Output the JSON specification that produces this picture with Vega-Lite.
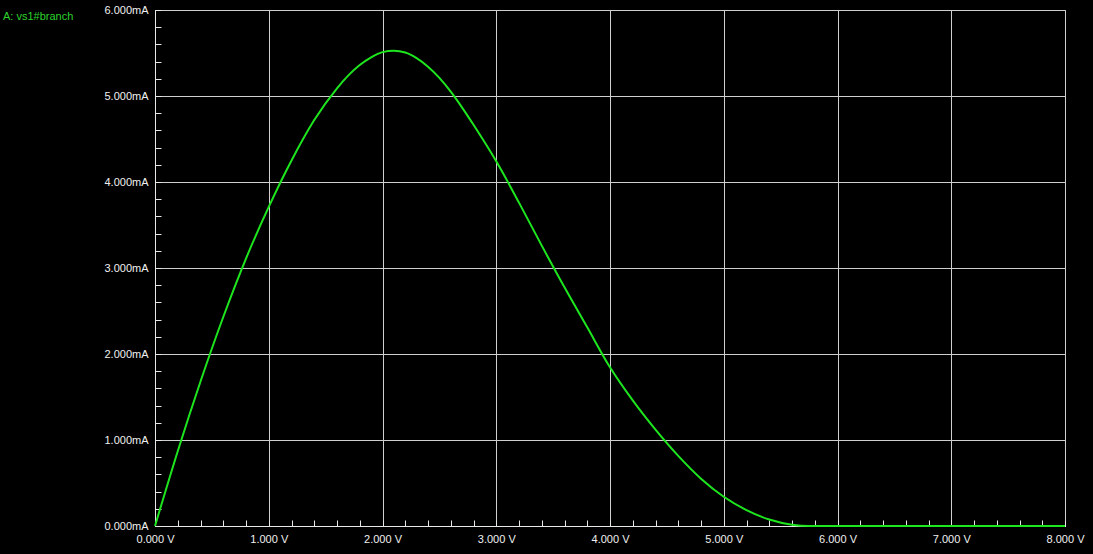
{
  "$schema": "https://vega.github.io/schema/vega-lite/v6.json",
  "width": 910,
  "height": 516,
  "autosize": {"type": "none"},
  "padding": {"left": 155, "top": 10, "right": 28, "bottom": 28},
  "background": "#000000",
  "title": {
    "text": "A: vs1#branch",
    "anchor": "start",
    "frame": "group",
    "orient": "top",
    "offset": 0,
    "dx": -152,
    "dy": 24,
    "baseline": "middle",
    "font": "Liberation Sans",
    "fontSize": 11,
    "fontWeight": "normal",
    "color": "#2ed32e"
  },
  "config": {
    "view": {"stroke": "#cfcfcf", "strokeWidth": 1},
    "axis": {
      "labelFont": "Liberation Sans",
      "labelFontSize": 11,
      "labelColor": "#f0f0f0",
      "domainColor": "#e8e8e8",
      "tickColor": "#e8e8e8",
      "title": null
    }
  },
  "data": {
    "values": [
      {"v": 0, "i": 0},
      {"v": 0.2, "i": 0.87},
      {"v": 0.4, "i": 1.68},
      {"v": 0.6, "i": 2.43},
      {"v": 0.8, "i": 3.11},
      {"v": 1.0, "i": 3.71},
      {"v": 1.2, "i": 4.25},
      {"v": 1.4, "i": 4.72},
      {"v": 1.6, "i": 5.09},
      {"v": 1.7, "i": 5.24},
      {"v": 1.8, "i": 5.36},
      {"v": 1.9, "i": 5.45},
      {"v": 2.0, "i": 5.51},
      {"v": 2.1, "i": 5.525},
      {"v": 2.2, "i": 5.505},
      {"v": 2.3, "i": 5.44},
      {"v": 2.4, "i": 5.34},
      {"v": 2.5, "i": 5.21},
      {"v": 2.6, "i": 5.05},
      {"v": 2.7, "i": 4.865},
      {"v": 2.8, "i": 4.665},
      {"v": 3.0, "i": 4.24},
      {"v": 3.2, "i": 3.76},
      {"v": 3.4, "i": 3.26},
      {"v": 3.6, "i": 2.775},
      {"v": 3.8, "i": 2.31},
      {"v": 4.0, "i": 1.845},
      {"v": 4.2, "i": 1.46},
      {"v": 4.4, "i": 1.12},
      {"v": 4.6, "i": 0.815},
      {"v": 4.8, "i": 0.55},
      {"v": 5.0, "i": 0.34},
      {"v": 5.2, "i": 0.185},
      {"v": 5.4, "i": 0.075},
      {"v": 5.6, "i": 0.015},
      {"v": 5.75, "i": 0},
      {"v": 6.0, "i": 0},
      {"v": 7.0, "i": 0},
      {"v": 8.0, "i": 0}
    ]
  },
  "mark": {"type": "line", "color": "#1ee61e", "strokeWidth": 2, "interpolate": "monotone", "clip": false},
  "encoding": {
    "x": {
      "field": "v",
      "type": "quantitative",
      "scale": {"domain": [0, 8], "nice": false, "zero": false},
      "axis": {
        "values": [0, 0.2, 0.4, 0.6, 0.8, 1, 1.2, 1.4, 1.6, 1.8, 2, 2.2, 2.4, 2.6, 2.8, 3, 3.2, 3.4, 3.6, 3.8, 4, 4.2, 4.4, 4.6, 4.8, 5, 5.2, 5.4, 5.6, 5.8, 6, 6.2, 6.4, 6.6, 6.8, 7, 7.2, 7.4, 7.6, 7.8, 8],
        "labelExpr": "abs(datum.value - round(datum.value)) < 0.001 ? format(datum.value, '.3f') + ' V' : ''",
        "labelOverlap": false,
        "labelFlush": false,
        "tickSize": -6,
        "labelPadding": 13,
        "grid": true,
        "gridColor": "#cfcfcf",
        "gridOpacity": {"condition": {"test": "abs(datum.value - round(datum.value)) < 0.001", "value": 1}, "value": 0}
      }
    },
    "y": {
      "field": "i",
      "type": "quantitative",
      "scale": {"domain": [0, 6], "nice": false, "zero": false},
      "axis": {
        "values": [0, 0.2, 0.4, 0.6, 0.8, 1, 1.2, 1.4, 1.6, 1.8, 2, 2.2, 2.4, 2.6, 2.8, 3, 3.2, 3.4, 3.6, 3.8, 4, 4.2, 4.4, 4.6, 4.8, 5, 5.2, 5.4, 5.6, 5.8, 6],
        "labelExpr": "abs(datum.value - round(datum.value)) < 0.001 ? format(datum.value, '.3f') + 'mA' : ''",
        "labelOverlap": false,
        "labelFlush": false,
        "tickSize": -6,
        "labelPadding": 13,
        "grid": true,
        "gridColor": "#cfcfcf",
        "gridOpacity": {"condition": {"test": "abs(datum.value - round(datum.value)) < 0.001", "value": 1}, "value": 0}
      }
    }
  }
}
